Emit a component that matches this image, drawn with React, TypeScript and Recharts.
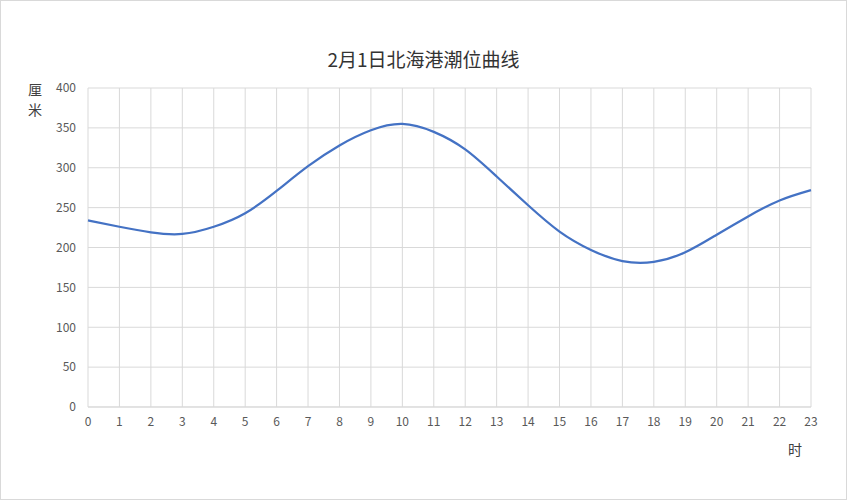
import React from "react";
import { LineChart, Line, XAxis, YAxis, CartesianGrid } from "recharts";

const hours = [0, 1, 2, 3, 4, 5, 6, 7, 8, 9, 10, 11, 12, 13, 14, 15, 16, 17, 18, 19, 20, 21, 22, 23];
const tideCm = [234, 226, 219, 217, 226, 243, 271, 302, 328, 347, 355, 345, 323, 289, 253, 220, 197, 183, 182, 194, 216, 239, 259, 272];
const yTicks = [0, 50, 100, 150, 200, 250, 300, 350, 400];
const titleText = "2月1日北海港潮位曲线";
const yLabel = ["厘", "米"];
const xLabel = "时";

const data = hours.map((h, i) => ({ hour: h, value: tideCm[i] }));

const FONT = '"Noto Sans CJK SC", "Noto Sans", sans-serif';

export default function App() {
  return (
    <div
      style={{
        position: "fixed",
        left: 0,
        top: 0,
        width: 847,
        height: 500,
        boxSizing: "border-box",
        border: "1px solid #d9d9d9",
        background: "#fff",
        fontFamily: FONT,
      }}
    >
      <div
        style={{
          position: "absolute",
          left: 0,
          width: 845,
          top: 45,
          textAlign: "center",
          fontSize: 19,
          color: "#333333",
          lineHeight: "26px",
        }}
      >
        {titleText}
      </div>
      <div
        style={{
          position: "absolute",
          left: 27,
          top: 78,
          fontSize: 14,
          color: "#404040",
          lineHeight: "20px",
          width: 16,
        }}
      >
        {yLabel.map((c) => (
          <div key={c}>{c}</div>
        ))}
      </div>
      <div
        style={{
          position: "absolute",
          left: 787,
          top: 438,
          fontSize: 14,
          color: "#404040",
          lineHeight: "20px",
        }}
      >
        {xLabel}
      </div>
      <div style={{ position: "absolute", left: -1, top: -1 }}>
        <LineChart
          width={847}
          height={500}
          data={data}
          margin={{ top: 88, right: 36, bottom: 63, left: 48 }}
        >
          <CartesianGrid stroke="#d9d9d9" strokeWidth={1} vertical={true} horizontal={true} />
          <XAxis
            dataKey="hour"
            type="number"
            domain={[0, 23]}
            ticks={hours}
            interval={0}
            height={30}
            tickSize={0}
            tickMargin={10}
            axisLine={{ stroke: "#d9d9d9" }}
            tickLine={false}
            tick={{ fill: "#595959", fontSize: 12, fontFamily: FONT }}
          />
          <YAxis
            type="number"
            domain={[0, 400]}
            ticks={yTicks}
            interval={0}
            width={40}
            tickSize={0}
            tickMargin={12}
            axisLine={false}
            tickLine={false}
            tick={{ fill: "#595959", fontSize: 12, fontFamily: FONT }}
          />
          <Line
            type="natural"
            dataKey="value"
            stroke="#4472C4"
            strokeWidth={2.25}
            dot={false}
            activeDot={false}
            isAnimationActive={false}
          />
        </LineChart>
      </div>
    </div>
  );
}
